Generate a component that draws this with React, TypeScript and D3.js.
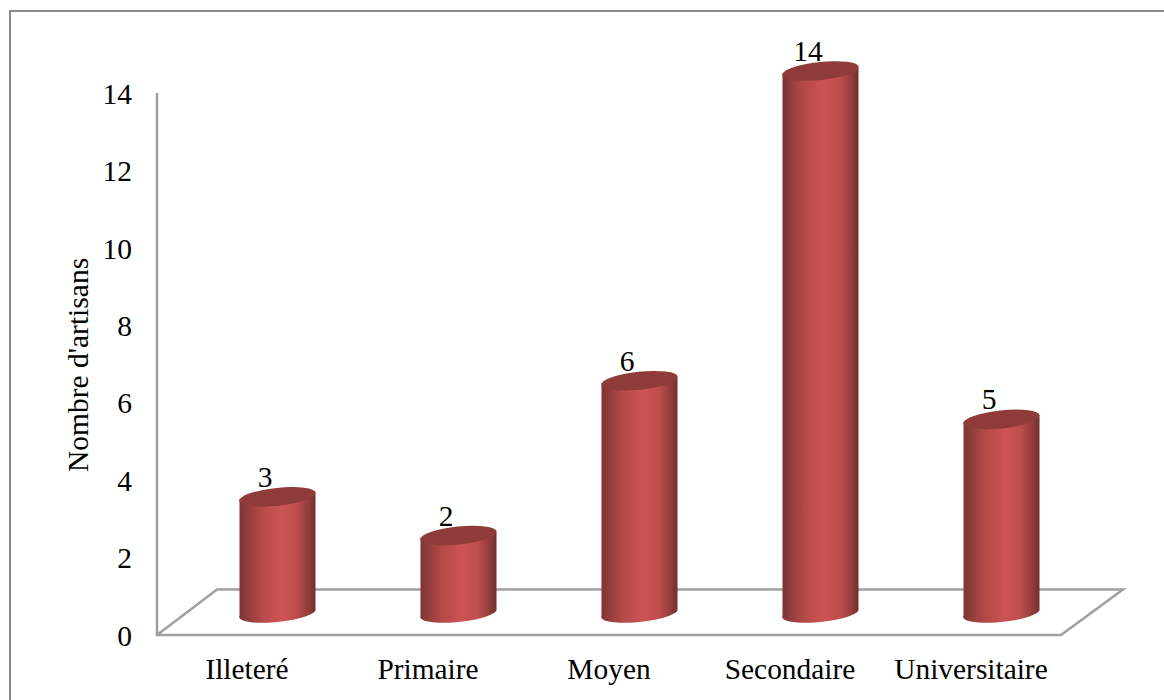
import React from "react";
import * as d3 from "d3";

const categories = ["Illeteré", "Primaire", "Moyen", "Secondaire", "Universitaire"];
const values = [3, 2, 6, 14, 5];
const ticks = [0, 2, 4, 6, 8, 10, 12, 14];
const yTitle = "Nombre d'artisans";

const W = 1164, H = 700;
const FONT = "'Liberation Serif', 'Times New Roman', serif";

export default function App() {
  const y = d3.scaleLinear().domain([0, 14]).range([635, 93]);
  const x = d3.scaleBand<string>().domain(categories).range([157, 1062]);
  const depthY = -22;
  const barW = 76;
  const rx = barW / 2 + 0.5, ry = 9, tilt = -6;
  const shapeX = (c: string) => x(c)! + x.bandwidth() / 2 + 30;
  return (
    <svg width={W} height={H} style={{ position: "fixed", left: 0, top: 0, display: "block" }}>
      <defs>
        <linearGradient id="cyl" x1="0" x2="1" y1="0" y2="0">
          <stop offset="0" stopColor="#7c3432" />
          <stop offset="0.12" stopColor="#933e3c" />
          <stop offset="0.3" stopColor="#b54a49" />
          <stop offset="0.55" stopColor="#cd5454" />
          <stop offset="0.75" stopColor="#bf4e4d" />
          <stop offset="0.92" stopColor="#8e3c3a" />
          <stop offset="1" stopColor="#6f2f2d" />
        </linearGradient>
      </defs>
      <rect width={W} height={H} fill="#fff" />
      <path d={`M10 ${H}V11H1164`} fill="none" stroke="#8a8a8a" strokeWidth={2} />
      <g fill="none" stroke="#a0a0a0" strokeWidth={2.5}>
        <path d={`M157 ${y(14)}V${y(0)}H1061L1123 589.5H217L157 ${y(0)}`} strokeLinejoin="miter" />
      </g>
      {ticks.map((t) => (
        <text key={t} x={132} y={y(t) + 1} dy="0.33em" textAnchor="end" fontFamily={FONT} fontSize={29.5} fill="#000">{t}</text>
      ))}
      <text transform="translate(88,365) rotate(-90)" textAnchor="middle" fontFamily={FONT} fontSize={29.5} fill="#000">{yTitle}</text>
      {categories.map((c, i) => {
        const cx = shapeX(c);
        const yb = y(0) + depthY;
        const yt = y(values[i]) + depthY;
        const rad = (tilt * Math.PI) / 180;
        const dy = rx * Math.sin(rad) * 0.62;
        const body = `M${cx - barW / 2} ${yt - dy}L${cx + barW / 2} ${yt + dy}L${cx + barW / 2} ${yb + dy}A${rx} ${ry} ${tilt} 0 1 ${cx - barW / 2} ${yb - dy}Z`;
        return (
          <g key={c}>
            <path d={body} fill="url(#cyl)" />
            <text x={cx - 12.5} y={yt - 10} textAnchor="middle" fontFamily={FONT} fontSize={29.5} fill="#000">{values[i]}</text>
            <ellipse cx={cx} cy={yt} rx={rx} ry={ry} transform={`rotate(${tilt} ${cx} ${yt})`} fill="#8f3b3a" />
            <text x={x(c)! + x.bandwidth() / 2 - 0.5} y={679} textAnchor="middle" fontFamily={FONT} fontSize={29.4} fill="#000">{c}</text>
          </g>
        );
      })}
    </svg>
  );
}
